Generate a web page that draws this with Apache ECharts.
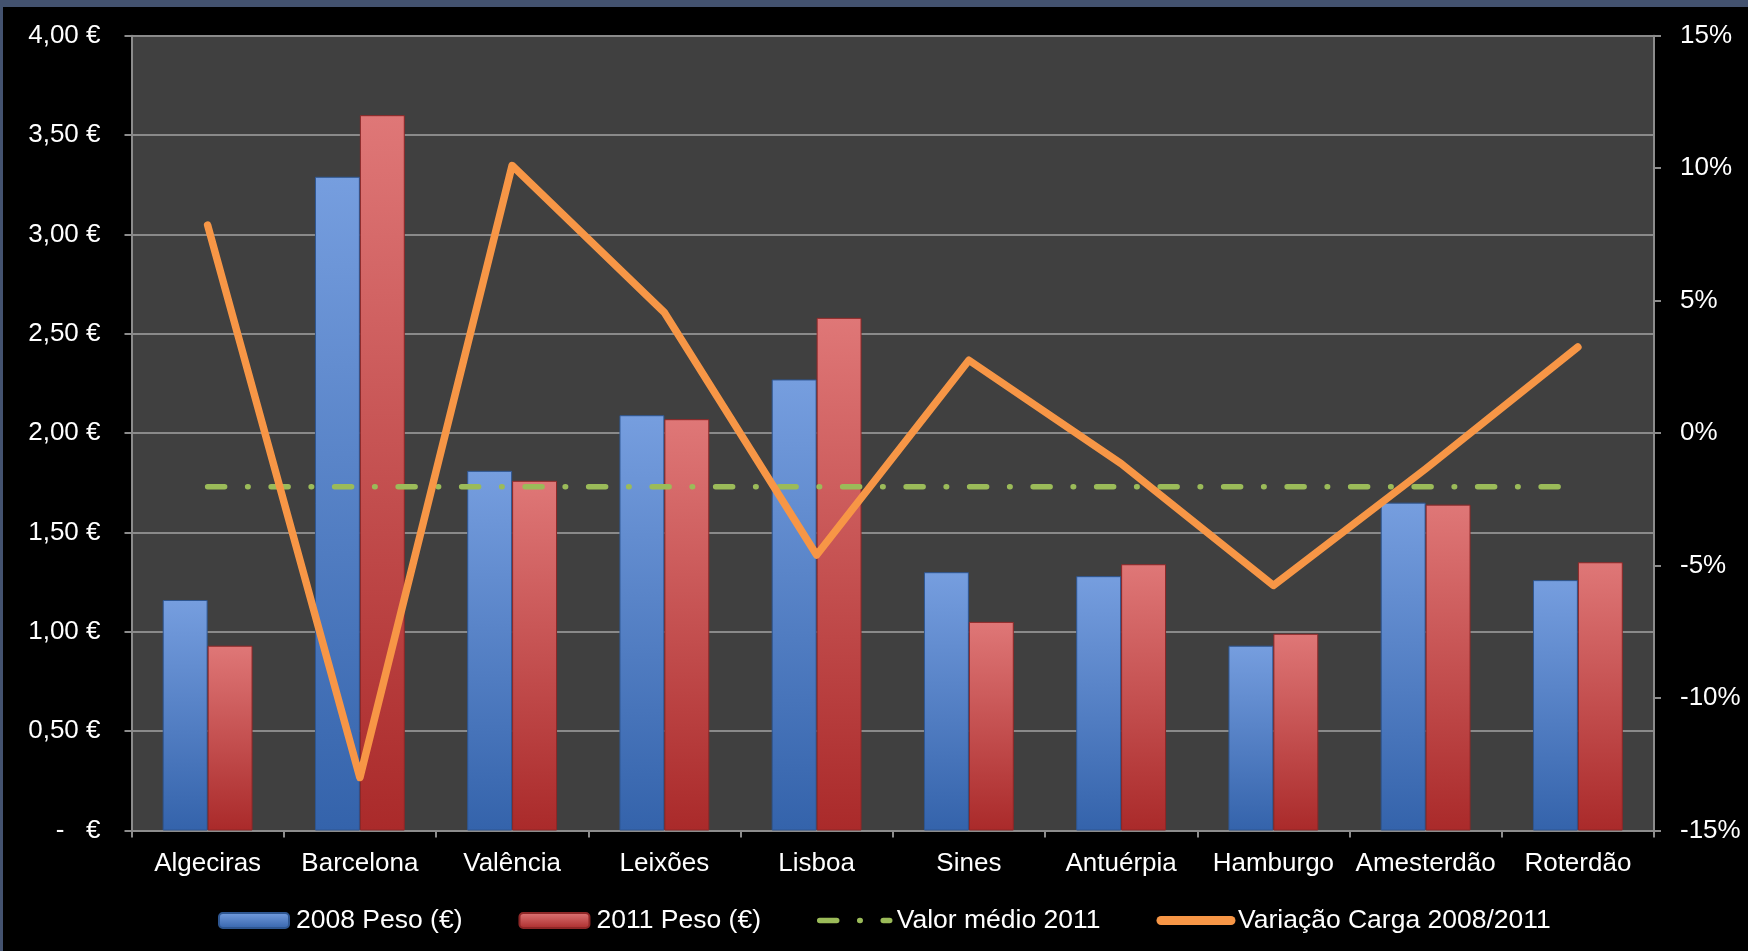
<!DOCTYPE html>
<html>
<head>
<meta charset="utf-8">
<script src="https://cdn.jsdelivr.net/npm/echarts@6/dist/echarts.min.js"></script>
<style>
  html, body { margin: 0; padding: 0; background: #000; }
  #chart { width: 1748px; height: 951px; }
</style>
</head>
<body>
<div id="chart"></div>
<script>
const categories = ['Algeciras', 'Barcelona', 'Valência', 'Leixões', 'Lisboa', 'Sines', 'Antuérpia', 'Hamburgo', 'Amesterdão', 'Roterdão'];
const peso2008 = [1.16, 3.29, 1.81, 2.09, 2.27, 1.30, 1.28, 0.93, 1.65, 1.26];
const peso2011 = [0.93, 3.60, 1.76, 2.07, 2.58, 1.05, 1.34, 0.99, 1.64, 1.35];
const valorMedio2011 = [1.73, 1.73, 1.73, 1.73, 1.73, 1.73, 1.73, 1.73, 1.73, 1.73];
const variacaoCarga = [7.85, -13.0, 10.1, 4.55, -4.6, 2.75, -1.15, -5.75, -1.35, 3.25];
const leftTickLabels = ['-   €', '0,50 €', '1,00 €', '1,50 €', '2,00 €', '2,50 €', '3,00 €', '3,50 €', '4,00 €'];
const rightTickLabels = ['-15%', '-10%', '-5%', '0%', '5%', '10%', '15%'];
const seriesNames = ['2008 Peso (€)', '2011 Peso (€)', 'Valor médio 2011', 'Variação Carga 2008/2011'];

const FONT = 'Liberation Sans, Arial, sans-serif';
const chart = echarts.init(document.getElementById('chart'), null, { renderer: 'canvas' });

const blueGrad = new echarts.graphic.LinearGradient(0, 0, 0, 1, [
  { offset: 0, color: '#769edf' },
  { offset: 1, color: '#3463ab' }
]);
const redGrad = new echarts.graphic.LinearGradient(0, 0, 0, 1, [
  { offset: 0, color: '#df7777' },
  { offset: 1, color: '#aa2a2a' }
]);

const option = {
  backgroundColor: '#000000',
  animation: false,
  graphic: [
    { type: 'rect', shape: { x: 0, y: 0, width: 1748, height: 7 }, style: { fill: '#43526f' }, silent: true },
    { type: 'rect', shape: { x: 0, y: 0, width: 3, height: 951 }, style: { fill: '#43526f' }, silent: true }
  ],
  grid: {
    left: 131.5, right: 94, top: 35.7, bottom: 120.5,
    show: true, backgroundColor: '#404040', borderWidth: 0
  },
  legend: {
    left: 213, top: 902,
    itemWidth: 70, itemHeight: 15, itemGap: 56,
    textStyle: { color: '#ffffff', fontSize: 26.5, fontFamily: FONT, padding: [0, 0, 0, 2] },
    data: [
      { name: seriesNames[0] },
      { name: seriesNames[1] },
      { name: seriesNames[2], itemStyle: { color: 'rgba(0,0,0,0)', borderWidth: 0 },
        lineStyle: { width: 5.5, cap: 'round', type: [17, 23, 0.5, 23], color: '#9bbb59' } },
      { name: seriesNames[3], itemStyle: { color: 'rgba(0,0,0,0)', borderWidth: 0 },
        lineStyle: { width: 9, cap: 'round', color: '#f79646' } }
    ]
  },
  xAxis: {
    type: 'category',
    data: categories,
    boundaryGap: true,
    axisLine: { show: true, lineStyle: { color: '#8c8c8c', width: 2 } },
    axisTick: { show: true, length: 7, alignWithLabel: false, lineStyle: { color: '#8c8c8c', width: 2 } },
    axisLabel: { color: '#ffffff', fontSize: 26, fontFamily: FONT, margin: 20, interval: 0 },
    splitLine: { show: false }
  },
  yAxis: [
    {
      type: 'value', min: 0, max: 4, interval: 0.5, position: 'left',
      axisLine: { show: true, lineStyle: { color: '#8c8c8c', width: 2 } },
      axisTick: { show: true, length: 7, lineStyle: { color: '#8c8c8c', width: 2 } },
      axisLabel: {
        color: '#ffffff', fontSize: 26, fontFamily: FONT, margin: 31,
        formatter: v => leftTickLabels[Math.round(v * 2)]
      },
      splitLine: { show: true, lineStyle: { color: '#8a8a8a', width: 2 } }
    },
    {
      type: 'value', min: -15, max: 15, interval: 5, position: 'right',
      axisLine: { show: true, lineStyle: { color: '#8c8c8c', width: 2 } },
      axisTick: { show: true, length: 7, lineStyle: { color: '#8c8c8c', width: 2 } },
      axisLabel: {
        color: '#ffffff', fontSize: 26, fontFamily: FONT, margin: 26,
        formatter: v => rightTickLabels[Math.round((v + 15) / 5)]
      },
      splitLine: { show: false }
    }
  ],
  series: [
    {
      name: seriesNames[0], type: 'bar', data: peso2008,
      barGap: '0%', barCategoryGap: '41%', z: 2,
      itemStyle: { color: blueGrad, borderColor: '#2e5691', borderWidth: 1 }
    },
    {
      name: seriesNames[1], type: 'bar', data: peso2011,
      barGap: '0%', barCategoryGap: '41%', z: 2,
      itemStyle: { color: redGrad, borderColor: '#8e2727', borderWidth: 1 }
    },
    {
      name: seriesNames[2], type: 'line', data: valorMedio2011,
      symbol: 'none', z: 4,
      itemStyle: { color: '#9bbb59' },
      lineStyle: { color: '#9bbb59', width: 5.5, cap: 'round', type: [17, 23, 0.5, 23] }
    },
    {
      name: seriesNames[3], type: 'line', data: variacaoCarga, yAxisIndex: 1,
      symbol: 'none', z: 5,
      itemStyle: { color: '#f79646' },
      lineStyle: { color: '#f79646', width: 7.5, cap: 'round', join: 'round' }
    }
  ]
};
chart.setOption(option);
</script>
</body>
</html>
